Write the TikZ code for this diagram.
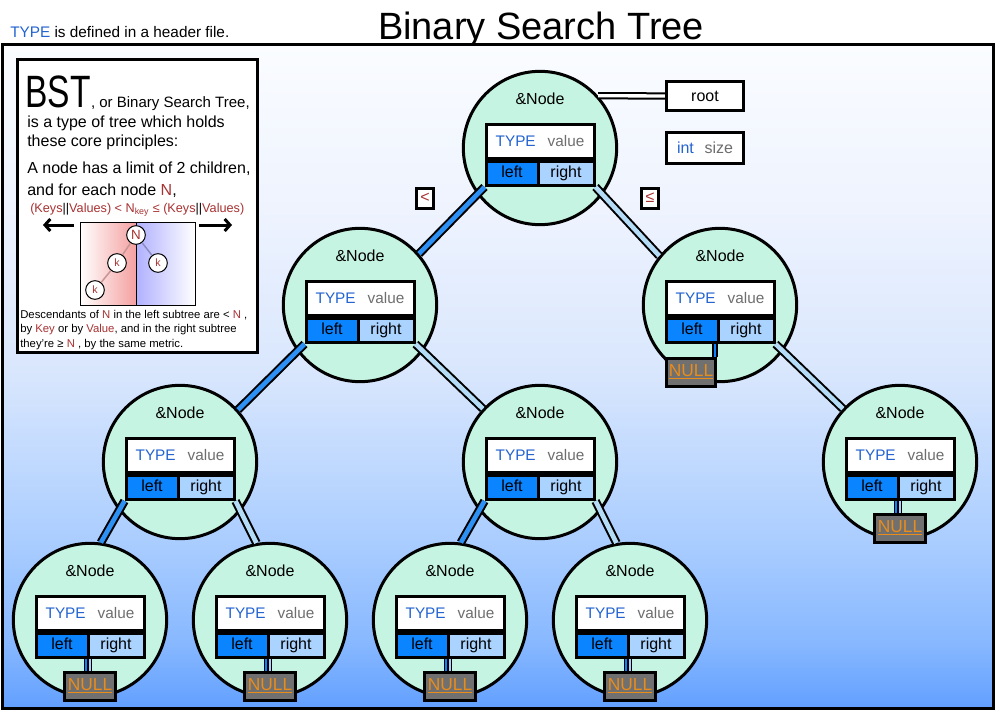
\documentclass[tikz,border=0pt]{standalone}
\usepackage{fontspec}
\setmainfont{Liberation Sans}
\newfontfamily\bstfont[FakeStretch=0.74]{Liberation Sans}
\usetikzlibrary{arrows.meta,positioning,calc}
\definecolor{typeblue}{HTML}{2464D0}
\definecolor{valgrey}{HTML}{6E6E6E}
\definecolor{leftblue}{HTML}{0A84FF}
\definecolor{rightblue}{HTML}{AAD4FF}
\definecolor{ptrleft}{HTML}{2C90F4}
\definecolor{ptrright}{HTML}{B4DCF6}
\definecolor{nodegreen}{HTML}{C6F4E2}
\definecolor{nullgrey}{HTML}{707070}
\definecolor{nullorange}{HTML}{E88C1C}
\definecolor{keyred}{HTML}{A83232}
\definecolor{minired}{HTML}{F4A0A0}
\definecolor{miniblue}{HTML}{B0B0FF}
\definecolor{minilinkl}{HTML}{C89494}
\definecolor{minilinkr}{HTML}{8C8CC4}
\definecolor{bgbot}{HTML}{62A0FF}
\definecolor{bgb1}{HTML}{88B8FF}
\definecolor{bgb2}{HTML}{AACDFF}
\definecolor{bgmid}{HTML}{D8E6FD}
\definecolor{bgt1}{HTML}{EEF3FE}
\definecolor{bgtop}{HTML}{FAFCFF}
\pgfdeclareverticalshading{bgshade}{100bp}{color(0bp)=(bgbot); color(25bp)=(bgbot); color(30bp)=(bgb1);
  color(37.5bp)=(bgb2); color(50bp)=(bgmid); color(62.5bp)=(bgt1); color(75bp)=(bgtop); color(100bp)=(bgtop)}
\newcommand{\fsz}[1]{\fontsize{#1}{#1}\selectfont}

\begin{document}
\begin{tikzpicture}[x=0.75pt, y=-0.75pt,
  bstnode/.style={circle, draw, line width=2.25pt, fill=nodegreen, minimum size=115pt, inner sep=0pt},
  valbox/.style={draw, line width=2.25pt, fill=white, minimum width=81pt, minimum height=25.5pt,
                 inner sep=0pt, text height=8.5pt, text depth=1pt, font=\fsz{11.5}},
  cell/.style={draw, line width=2.25pt, minimum height=18pt, inner sep=0pt, text height=8.5pt,
               text depth=2.5pt, font=\fsz{12}},
  lcell/.style={cell, fill=leftblue, minimum width=39pt},
  rcell/.style={cell, fill=rightblue, minimum width=42pt},
  nullbox/.style={draw, line width=2.25pt, fill=nullgrey, minimum width=38pt, minimum height=21pt,
                  inner sep=0pt, text=nullorange, font=\fsz{13}},
  lptr/.style={draw=black, line width=1.5pt, double=ptrleft, double distance=3.5pt},
  rptr/.style={lptr, double=ptrright},
  nptrl/.style={draw=black, line width=0.75pt, double=leftblue, double distance=1.5pt},
  nptrr/.style={nptrl, double=rightblue},
  tagbox/.style={draw, line width=2.25pt, fill=white, minimum width=58pt, minimum height=22pt,
                 inner sep=0pt, font=\fsz{12}},
  cmpbox/.style={draw, line width=2.25pt, fill=white, minimum width=13pt, minimum height=15pt,
                 inner sep=0pt, text=keyred, font=\fsz{12}},
  mini/.style={circle, draw, line width=0.75pt, fill=white, minimum size=14pt, inner sep=0pt,
               text=keyred},
  txt/.style={anchor=base west, inner sep=0pt, font=\fsz{12}}]
  \fill[white] (0,0) rectangle (995,710);
  \useasboundingbox (0,0) rectangle (995,710);
  \node[txt, font=\fsz{11.5}] (note) at (10,38) {\textcolor{typeblue}{TYPE} is defined in a header file.};
  \node[anchor=base, inner sep=0pt, font=\fsz{28.5}] (title) at (541,40) {Binary Search Tree};
  \shadedraw[shading=bgshade, line width=2.25pt] (2,45) rectangle (993,708);

  % info panel
  \draw[line width=2.25pt, fill=white] (17,60) rectangle (257,352);
  \node[txt, font=\bstfont\fsz{34}] (bst) at (25,107) {BST};
  \node[txt, font=\fsz{11.25}] at (bst.base east) {, or Binary Search Tree,};
  \node[txt] at (27,127) {is a type of tree which holds};
  \node[txt] at (27,146) {these core principles:};
  \node[txt] at (27,173) {A node has a limit of 2 children,};
  \node[txt] at (27,195) {and for each node \textcolor{keyred}{N},};
  \node[txt, font=\fsz{9.5}, text=keyred] at (30,212)
    {(Keys\textcolor{black}{||}Values) < N\textsubscript{key} ≤ (Keys\textcolor{black}{||}Values)};
  \shade[left color=white, right color=minired] (80,222) rectangle (136,305);
  \shade[left color=miniblue, right color=white] (136,222) rectangle (195,305);
  \draw[line width=0.75pt] (80,222) rectangle (195,305);
  \draw[line width=0.75pt] (136,222) -- (136,305);
  \node[mini, font=\fsz{10}] (mN) at (136,235) {N};
  \node[mini, font=\fsz{8}] (mk1) at (117,263) {k};
  \node[mini, font=\fsz{8}] (mk2) at (158,263) {k};
  \node[mini, font=\fsz{8}] (mk3) at (95,290) {k};
  \draw[line width=1.1pt, minilinkl] (mN) -- (mk1);
  \draw[line width=1.1pt, minilinkl] (mk1) -- (mk3);
  \draw[line width=1.1pt, minilinkr] (mN) -- (mk2);
  \coordinate (al0) at (74,225);
  \coordinate (al1) at (43,225);
  \coordinate (ar0) at (199,225);
  \coordinate (ar1) at (232,225);
  \draw[-{Straight Barb[length=4pt, width=9pt]}, line width=2.25pt] (al0) -- (al1);
  \draw[-{Straight Barb[length=4pt, width=9pt]}, line width=2.25pt] (ar0) -- (ar1);
  \node[txt, font=\fsz{8.5}] at (20,318)
    {Descendants of \textcolor{keyred}{N} in the left subtree are < \textcolor{keyred}{N} ,};
  \node[txt, font=\fsz{8.5}] at (20,332)
    {by \textcolor{keyred}{Key} or by \textcolor{keyred}{Value}, and in the right subtree};
  \node[txt, font=\fsz{8.5}] at (20,347)
    {they're ≥ \textcolor{keyred}{N} , by the same metric.};

  % tree nodes
  \foreach \nm/\x/\y in {n0/540/148, n1/360/305, n2/720/305, n3/180/462, n4/540/462,
                         n5/900/462, n6/90/620, n7/270/620, n8/450/620, n9/630/620} {
    \node[bstnode] (\nm) at (\x,\y) {};
    \node[font=\fsz{12}] (\nm-t) at (\x,\y-49) {\&Node};
    \node[valbox, anchor=south] (\nm-v) at (\x,\y+12)
      {\textcolor{typeblue}{TYPE}\hspace{9pt}\textcolor{valgrey}{value}};
    \node[lcell, anchor=north west] (\nm-l) at (\nm-v.south west) {left};
    \node[rcell, anchor=north east] (\nm-r) at (\nm-v.south east) {right};
  }

  \draw[lptr] (n0-l.south west) -- (n1.41);
  \draw[rptr] (n0-r.south east) -- (n2.141);
  \draw[lptr] (n1-l.south west) -- (n3.42);
  \draw[rptr] (n1-r.south east) -- (n4.137);
  \draw[rptr] (n2-r.south east) -- (n5.137);
  \draw[lptr] (n3-l.south west) -- (n6.82);
  \draw[rptr] (n3-r.south east) -- (n7.100);
  \draw[lptr] (n4-l.south west) -- (n8.82);
  \draw[rptr] (n4-r.south east) -- (n9.100);

  \foreach \nm in {n5,n6,n7,n8,n9} {
    \node[nullbox] (\nm-x) at ($(\nm)+(0,66)$) {\underline{NULL}};
    \draw[nptrl] ([xshift=-2.5pt]\nm-l.south east) -- ([xshift=-2.5pt]\nm-l.south east |- \nm-x.north);
    \draw[nptrr] ([xshift=2.5pt]\nm-r.south west) -- ([xshift=2.5pt]\nm-r.south west |- \nm-x.north);
  }
  \node[nullbox, minimum width=37pt] (n2-x) at ($(n2)+(-29,67)$) {\underline{NULL}};
  \draw[nptrl, line width=1pt, double distance=2pt]
    ([xshift=-3.5pt]n2-l.south east) -- ([xshift=-3.5pt]n2-l.south east |- n2-x.north);

  % root pointer, size field and comparison marks
  \node[tagbox] (root) at (705,96) {root};
  \node[tagbox, minimum height=23.5pt] (size) at (705,148)
    {\textcolor{typeblue}{int}\hspace{8pt}\textcolor{valgrey}{size}};
  \draw[draw=black, line width=1.5pt, double=white, double distance=2.5pt] (n0.42) -- (root.west);
  \node[cmpbox] (lt) at (425,198) {<};
  \node[cmpbox] (le) at (650,198) {≤};
\end{tikzpicture}
\end{document}
